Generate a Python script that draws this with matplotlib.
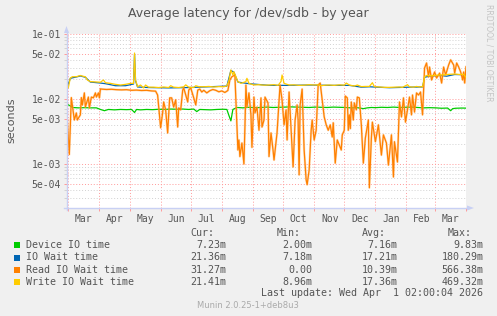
import numpy as np
import matplotlib
matplotlib.use("Agg")
import matplotlib.pyplot as plt
from matplotlib.patches import Rectangle, Polygon
from matplotlib.lines import Line2D
from matplotlib.ticker import FixedLocator, NullFormatter

W, H = 497, 316

# days counted from 2025-03-01, values in milliseconds
device_days = [-1, 2, 4, 10, 16, 22, 28, 32, 36, 40, 46, 52, 58, 63, 66, 68, 72, 78, 84, 90,
               96, 102, 108, 114, 120, 125, 128, 131, 136, 142, 148, 154, 158, 160, 162, 164, 168, 174, 180, 186,
               192, 198, 204, 210, 216, 222, 228, 234, 240, 246, 252, 258, 264, 270, 276, 282, 288, 294, 298, 302,
               306, 312, 318, 324, 330, 336, 342, 348, 354, 360, 366, 372, 378, 381, 383, 386, 392, 396.3]
device_ms = [8.3, 7.8, 7.4, 7.3, 7.35, 7.3, 7.3, 6.9, 6.6, 6.9, 6.8, 6.9, 6.85, 6.9, 6.2, 6.9, 6.8, 6.9, 6.85, 6.95,
             6.9, 7.0, 6.95, 7.0, 6.9, 7.0, 6.4, 6.9, 6.85, 6.8, 6.9, 6.95, 6.9, 5.6, 4.6, 6.9, 7.4, 7.3, 7.45, 7.35,
             7.4, 7.5, 7.4, 7.45, 7.5, 7.55, 7.5, 7.45, 7.4, 7.5, 7.45, 7.4, 7.5, 7.45, 7.4, 7.3, 7.35, 7.1, 7.3, 7.4,
             7.35, 7.45, 7.4, 7.5, 7.4, 7.45, 7.5, 7.4, 7.3, 7.35, 7.3, 7.2, 7.25, 6.6, 7.1, 7.2, 7.25, 7.23]

iowait_days = [-1, 2, 8, 12, 17, 22, 32, 37, 47, 57, 62, 65, 66, 67, 69, 80, 100, 120, 140, 158,
               162, 165, 169, 180, 200, 220, 240, 260, 280, 292, 300, 320, 340, 353, 355, 360, 370, 377, 385, 394,
               396.3]
iowait_ms = [15.3, 20.8, 21.8, 22.6, 21.6, 18.2, 17.6, 17.2, 16.0, 16.0, 16.6, 17.0, 49.0, 19.0, 15.3, 15.0, 14.8,
             15.0, 15.4, 15.8, 27.5, 25.8, 18.2, 17.2, 16.2, 16.2, 16.4, 16.2, 16.2, 15.2, 15.4, 14.9, 15.2, 15.3,
             21.6, 22.4, 23.0, 22.4, 23.8, 23.6, 21.36]

read_days = [-1, 1, 3, 6, 8, 9, 12, 13, 14, 16, 17, 20, 21, 23, 25, 27, 28, 30, 31, 32,
             33, 38, 43, 48, 53, 58, 63, 68, 73, 78, 83, 87,
             89, 92, 94, 95, 97, 99, 101, 103, 105, 107, 109, 110, 112, 114, 115, 117, 119, 120, 122, 125, 127,
             129, 131,
             133, 135, 138, 141, 144, 147, 150, 153, 156, 159, 161, 163,
             166, 167, 168, 169, 170, 171, 173, 175, 176, 177, 178, 180, 182, 183, 185, 186, 188, 190, 192, 193,
             195, 196, 199, 200, 202, 204, 205, 208, 211, 213, 215, 217, 218, 220, 222, 224, 226, 228,
             229, 230, 231, 233, 235, 237, 238, 240, 242, 243, 245, 247, 249, 251, 253, 255, 257, 259, 261, 263,
             264, 266, 268, 270, 272, 273, 275, 276, 278, 279, 280, 281, 282, 284, 285, 287, 288, 290, 292, 294,
             296,
             299, 300, 302, 303, 306, 309, 312, 314, 317, 319, 322, 324, 325, 328, 330, 332, 334, 336, 338, 340,
             342, 343, 345, 347, 349, 351, 353, 355, 357, 359, 360, 362, 365, 367, 370, 372, 374, 376, 379, 381,
             384, 385, 387, 389, 391, 393, 394, 395, 396.3]
read_ms = [4.75, 1.4, 10.5, 4.75, 6.1, 4.75, 5.7, 10.5, 8.1, 12.4, 7.5, 10.7, 7.3, 10.7, 10.4, 12.4, 10.7, 12.4,
           10.4, 14.3,
           14.2, 14.0, 14.1, 13.9, 13.8, 13.9, 13.6, 13.7, 13.5, 13.6, 13.3, 13.2,
           11.5, 3.6, 6.1, 9.0, 6.8, 3.0, 10.4, 10.4, 7.5, 9.7, 3.7, 7.3, 6.8, 13.7, 14.8, 11.5, 9.0, 13.7, 14.8,
           10.4, 8.1, 13.7, 14.2,
           12.8, 13.6, 12.4, 13.4, 14.0, 13.6, 12.9, 13.3, 12.6, 13.5, 19.6, 22.0,
           23.4, 9.7, 3.7, 1.64, 2.34, 1.3, 2.1, 1.0, 3.7, 16.4, 7.5, 12.4, 5.7, 1.8, 10.7, 6.1, 7.5, 3.3, 10.4,
           3.7, 4.75, 10.7, 8.7, 1.3, 3.0, 1.64, 1.15, 3.0, 16.4, 9.7, 4.0, 6.8, 2.34, 12.8, 3.3, 0.9, 4.75, 8.1,
           4.75, 0.68, 8.1, 14.2, 1.64, 0.57, 0.48, 0.81, 3.3, 4.75, 2.34, 3.3, 16.4, 17.6, 9.7, 5.3, 4.0, 3.3,
           4.0, 2.6, 4.3, 1.03, 2.34, 1.96, 1.64, 2.8, 3.3, 11.1, 10.4, 3.3, 5.7, 3.5, 9.0, 4.75, 8.7, 6.8, 10.7,
           10.4, 4.0, 1.03, 2.5,
           4.75, 0.43, 2.5, 4.4, 2.2, 4.0, 1.37, 2.8, 2.1, 0.96, 2.8, 0.63, 2.2, 1.07, 9.0, 5.3, 10.4, 4.4, 6.8,
           10.7, 5.7, 11.5, 6.3, 12.4, 11.5, 12.8, 5.7, 30.0, 35.8, 21.8, 31.0, 19.6, 26.0, 21.0, 25.0, 17.6, 31.0,
           23.4, 33.3, 40.0, 33.3, 25.0, 35.8, 31.0, 26.0, 19.6, 26.0, 17.6, 31.27]

write_days = [-1, 0, 2, 4, 8, 12, 14, 17, 19, 22, 27, 32, 35, 37, 42, 47, 52, 57, 62, 65,
              66, 67, 69, 72, 75, 77, 80, 85, 90, 95, 100, 102, 105, 110, 115, 117, 120, 125, 127, 130,
              135, 140, 145, 150, 155, 158, 160, 162, 164, 165, 167, 169, 172, 177, 178, 180, 185, 190, 195, 200,
              205, 209, 212, 213, 215, 220, 225, 230, 235, 240, 245, 248, 252, 256, 260, 265, 270, 275, 277, 280,
              285, 288, 292, 296, 300, 303, 305, 310, 315, 320, 325, 330, 333, 338, 340, 344, 347, 350, 353, 354,
              355, 357, 360, 365, 370, 375, 380, 385, 390, 394, 396.3]
write_ms = [15.5, 14.8, 21.0, 22.0, 22.0, 23.0, 22.5, 22.0, 19.6, 18.5, 18.3, 18.1, 19.6, 17.8, 17.4, 16.8, 16.4,
            16.8, 17.4, 17.4,
            51.0, 19.6, 15.5, 16.4, 14.8, 16.4, 15.2, 15.2, 15.0, 15.3, 15.0, 16.0, 15.2, 15.0, 15.4, 16.5, 15.2,
            15.0, 16.0, 15.5,
            15.4, 15.6, 15.3, 15.5, 15.4, 16.0, 19.0, 28.0, 23.5, 26.3, 22.0, 18.5, 17.4, 18.5, 20.8, 17.4, 16.4,
            16.6, 16.3, 16.4,
            16.6, 16.2, 18.6, 23.4, 17.4, 16.4, 16.5, 16.2, 16.3, 16.6, 16.4, 16.5, 16.0, 16.3, 16.4, 16.2, 16.5,
            16.3, 17.6, 16.4,
            15.8, 16.4, 15.5, 15.6, 15.6, 17.8, 15.5, 15.3, 15.1, 15.1, 15.2, 15.3, 15.1, 16.6, 15.4, 15.2, 15.6,
            15.3, 15.5, 18.0,
            22.0, 23.0, 22.8, 23.0, 23.4, 23.6, 24.0, 24.2, 23.8, 24.0, 21.4]

series_names = ['Device IO time', 'IO Wait time', 'Read IO Wait time', 'Write IO Wait time']
series_colors = ['#00CC00', '#0066B3', '#FF8000', '#FFCC00']
cur_vals = ['7.23m', '21.36m', '31.27m', '21.41m']
min_vals = ['2.00m', '7.18m', '0.00', '8.96m']
avg_vals = ['7.16m', '17.21m', '10.39m', '17.36m']
max_vals = ['9.83m', '180.29m', '566.38m', '469.32m']

month_names = ['Mar', 'Apr', 'May', 'Jun', 'Jul', 'Aug', 'Sep', 'Oct', 'Nov', 'Dec', 'Jan', 'Feb', 'Mar']
ytick_vals = [1e-1, 5e-2, 1e-2, 5e-3, 1e-3, 5e-4]
ytick_labels = ['1e-01', '5e-02', '1e-02', '5e-03', '1e-03', '5e-04']

plt.rcParams['font.family'] = 'DejaVu Sans Mono'
TXT = '#555555'
MGRID = '#FF9A9A'
GRID = '#D2D2D2'
AXIS = '#C8D0F4'


def fx(x):
    return x / W


def fy(y):
    return 1 - y / H


fig = plt.figure(figsize=(W / 100, H / 100), dpi=100, facecolor='#F0F0F0')
ax = fig.add_axes([fx(67), fy(208), 399 / W, 174 / H])
ax.set_facecolor('white')

series = [(device_days, device_ms), (iowait_days, iowait_ms), (read_days, read_ms), (write_days, write_ms)]
for (d, v), c in zip(series, series_colors):
    if c == '#FF8000':
        # soft halo like the anti-aliased rrdtool line
        ax.plot(d, np.array(v) / 1000, color='#FFB870', lw=1.7, alpha=0.45, zorder=3)
    ax.plot(d, np.array(v) / 1000, color=c, lw=0.9, zorder=3)

ax.set_yscale('log')
ax.set_ylim(2.1e-4, 1e-1)
ax.set_xlim(-1.3, 396.3)

# y grid
minor_y = [k * 10.0 ** e for e in (-4, -3, -2) for k in (2, 3, 4, 6, 7, 8, 9)]
minor_y = [m for m in minor_y if m > 2.1e-4]
ax.yaxis.set_major_locator(FixedLocator(ytick_vals))
ax.set_yticklabels(ytick_labels)
ax.yaxis.set_minor_locator(FixedLocator(minor_y))
ax.yaxis.set_minor_formatter(NullFormatter())

# x grid at month starts, labels mid month
months = np.arange(np.datetime64('2025-03'), np.datetime64('2026-05'), dtype='datetime64[M]')
month_days = (months.astype('datetime64[D]') - np.datetime64('2025-03-01')).astype(float)
ax.xaxis.set_major_locator(FixedLocator(month_days))
ax.xaxis.set_major_formatter(NullFormatter())
ax.xaxis.set_minor_locator(FixedLocator(month_days[:-1] + 15.5))
ax.set_xticklabels(month_names, minor=True)

dots = (0, (1, 2))
ax.grid(True, which='major', color=MGRID, linestyle=dots, lw=0.7)
ax.grid(True, which='minor', axis='y', color=GRID, linestyle=dots, lw=0.7)
ax.set_axisbelow(True)

ax.tick_params(axis='y', which='major', length=2.5, width=0.7, color=MGRID, pad=2,
               labelsize=7, labelcolor=TXT)
ax.tick_params(axis='y', which='minor', length=2.0, width=0.7, color=GRID)
ax.tick_params(axis='x', which='major', length=2.0, width=0.7, color=MGRID)
ax.tick_params(axis='x', which='minor', length=0, pad=4, labelsize=7, labelcolor=TXT)

for s in ax.spines.values():
    s.set_visible(False)

# axis lines with arrows
fig.add_artist(Line2D([fx(66.5), fx(66.5)], [fy(210), fy(31)], color=AXIS, lw=1.0))
fig.add_artist(Line2D([fx(64), fx(469)], [fy(208), fy(208)], color=AXIS, lw=1.0))
fig.add_artist(Polygon([(fx(66.5), fy(26)), (fx(64), fy(33)), (fx(69), fy(33))],
                       closed=True, facecolor=AXIS, edgecolor='none'))
fig.add_artist(Polygon([(fx(474), fy(208)), (fx(467), fy(205.5)), (fx(467), fy(210.5))],
                       closed=True, facecolor=AXIS, edgecolor='none'))

fig.text(fx(248.5), fy(14), 'Average latency for /dev/sdb - by year', ha='center', va='center',
         fontsize=9, color=TXT, family='DejaVu Sans')
fig.text(fx(11), fy(120), 'seconds', rotation=90, ha='center', va='center',
         fontsize=8, color=TXT, family='DejaVu Sans')
fig.text(fx(489), fy(4), 'RRDTOOL / TOBI OETIKER', rotation=270, ha='center', va='top',
         fontsize=5.5, color='#C4C4C4', family='DejaVu Sans')

# legend
lfs = 7.2
for x, h in zip([190.7, 276.7, 361.7, 447.7], ['Cur:', 'Min:', 'Avg:', 'Max:']):
    fig.text(fx(x), fy(233.3), h, ha='left', va='center', fontsize=lfs, color=TXT)

rows_y = [245.3, 257.5, 269.6, 281.7]
for i, y in enumerate(rows_y):
    fig.add_artist(Rectangle((fx(14), fy(y + 3)), 6 / W, 6 / H, facecolor=series_colors[i],
                             edgecolor='none', transform=fig.transFigure))
    fig.text(fx(26.5), fy(y), series_names[i], ha='left', va='center', fontsize=lfs, color=TXT)
    for x, col in zip([226.7, 312.3, 397.3, 483.3], [cur_vals, min_vals, avg_vals, max_vals]):
        fig.text(fx(x), fy(y), col[i], ha='right', va='center', fontsize=lfs, color=TXT)

fig.text(fx(483.3), fy(293.3), 'Last update: Wed Apr  1 02:00:04 2026', ha='right', va='center',
         fontsize=lfs, color=TXT)
fig.text(fx(248), fy(305.3), 'Munin 2.0.25-1+deb8u3', ha='center', va='center',
         fontsize=6, color='#AAAAAA', family='DejaVu Sans')

fig.savefig('out.png', dpi=100, facecolor=fig.get_facecolor())
